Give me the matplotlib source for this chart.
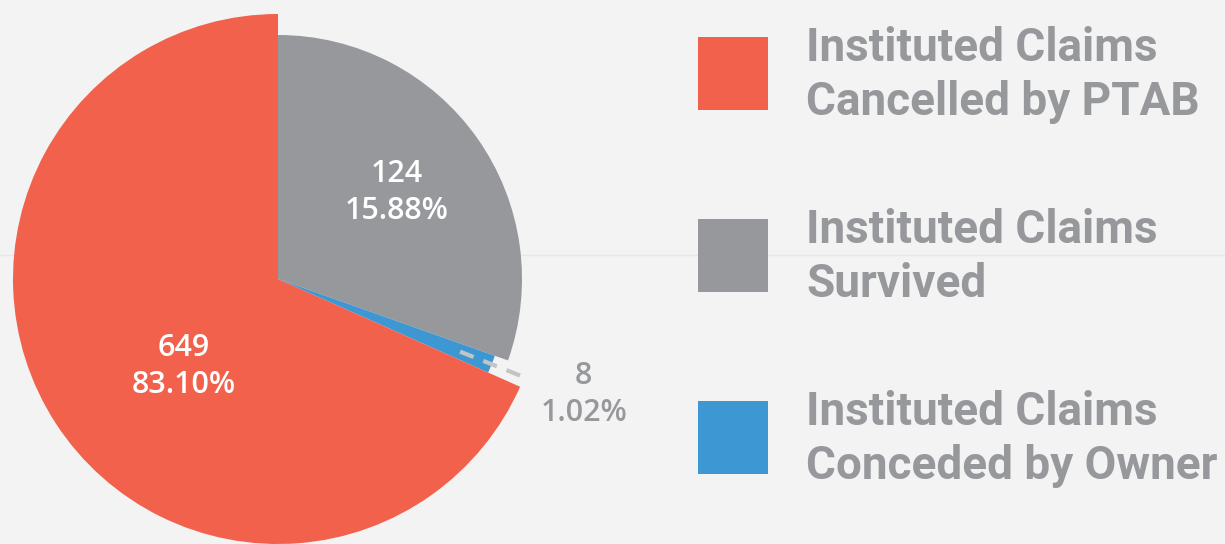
import numpy as np
import matplotlib
matplotlib.use("Agg")
import matplotlib.pyplot as plt
from matplotlib.patches import Rectangle

# data
categories = ["Instituted Claims\nCancelled by PTAB",
              "Instituted Claims\nSurvived",
              "Instituted Claims\nConceded by Owner"]
counts = [649, 124, 8]
percents = ["83.10%", "15.88%", "1.02%"]
# slice sizes as they are drawn in the original (not to scale with the counts)
drawn_share = [68.3, 30.4, 1.25]
colors = ["#f1614b", "#97989c", "#3d97d3"]

BG = "#f3f3f3"
GREY_TXT = "#97989c"

fig = plt.figure(figsize=(12.25, 5.44), dpi=100, facecolor=BG)
ax = fig.add_axes([0, 0, 1, 1])
ax.set_facecolor(BG)

# faint rule across the background
ax.axhline(289, color="#e7e7e7", lw=1, zorder=0)

# pie: grey then blue then red, clockwise from 12 o'clock
order = [1, 2, 0]
radius = [265, 244, 230]   # red is drawn bigger than the others
center = (278, 265)
wedges, _ = ax.pie([drawn_share[i] for i in order],
                   colors=[colors[i] for i in order],
                   startangle=90, counterclock=False,
                   center=center, radius=radius[0],
                   wedgeprops=dict(linewidth=0))
for w, i in zip(wedges, order):
    w.set_radius(radius[i])

ax.set_xlim(0, 1225)
ax.set_ylim(0, 544)
ax.set_aspect("equal")
ax.axis("off")

# value labels
lab_r = [129, 147, 327]
lab_shift = [9.8, 0.7, 1.0]
lab_col = ["white", "white", GREY_TXT]
for w, i in zip(wedges, order):
    mid = np.deg2rad((w.theta1 + w.theta2) / 2 + lab_shift[i])
    x = center[0] + lab_r[i] * np.cos(mid)
    y = center[1] + lab_r[i] * np.sin(mid)
    ax.text(x, y, f"{counts[i]}\n{percents[i]}", color=lab_col[i],
            ha="center", va="center", fontsize=22, family="Open Sans",
            fontweight="semibold", linespacing=1.3)
    if i == 2:
        a = np.deg2rad((w.theta1 + w.theta2) / 2)
        rr = np.array([196, 271])
        ax.plot(center[0] + rr * np.cos(a), center[1] + rr * np.sin(a),
                color="#c4c4c4", lw=3, ls=(0, (3.5, 2.5)), zorder=5)

# legend, drawn by hand
for i, lab in enumerate(categories):
    top = 544 - 37 - i * 182
    ax.add_patch(Rectangle((698, top - 73), 70, 73, color=colors[i], lw=0))
    ax.text(806, top - 38, lab, color=GREY_TXT, ha="left", va="center",
            fontsize=33, family="Roboto", fontweight="bold",
            linespacing=1.3)

fig.savefig("out.png", dpi=100, facecolor=BG)
